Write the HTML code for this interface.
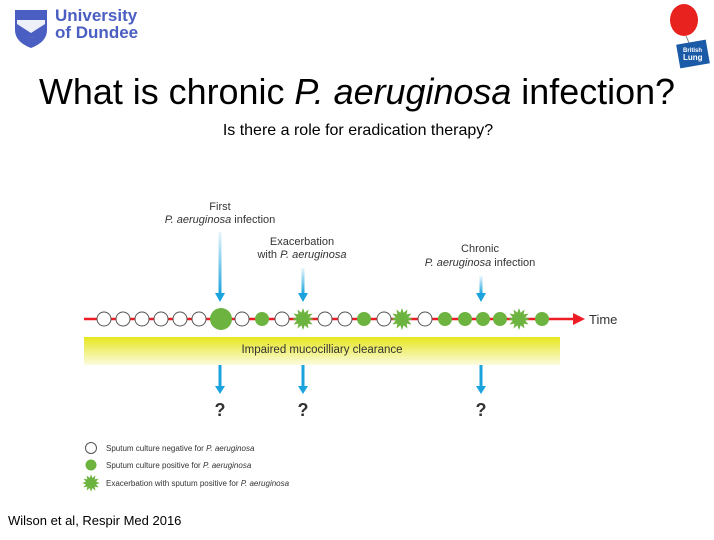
<!DOCTYPE html>
<html><head><meta charset="utf-8"><style>
body{margin:0;width:714px;height:535px;background:#fff;overflow:hidden;font-family:"Liberation Sans",sans-serif}
</style></head><body>
<svg width="714" height="535" viewBox="0 0 714 535" xmlns="http://www.w3.org/2000/svg" font-family="Liberation Sans, sans-serif">
<defs>
<linearGradient id="yb" x1="0" y1="0" x2="0" y2="1"><stop offset="0" stop-color="#e6e61e"/><stop offset="1" stop-color="#fbfbe0"/></linearGradient>
<linearGradient id="ar" x1="0" y1="0" x2="0" y2="1"><stop offset="0" stop-color="#1aa3dd" stop-opacity="0.1"/><stop offset="1" stop-color="#1aa3dd"/></linearGradient>
<polygon id="st" fill="#6db33f" points="11,0 6.28,1.68 9.53,5.5 4.6,4.6 5.5,9.53 1.68,6.28 0,11 -1.68,6.28 -5.5,9.53 -4.6,4.6 -9.53,5.5 -6.28,1.68 -11,0 -6.28,-1.68 -9.53,-5.5 -4.6,-4.6 -5.5,-9.53 -1.68,-6.28 0,-11 1.68,-6.28 5.5,-9.53 4.6,-4.6 9.53,-5.5 6.28,-1.68"/>
</defs>
<!-- logo -->
<path d="M15 10 H47 V30 Q47 42 31 48 Q15 42 15 30 Z" fill="#4a5fc1"/>
<path d="M17 20 L45 20 L45 29 L31 38 L17 29 Z" fill="#fff" opacity="0.9"/>
<path d="M17 24 L31 33 L45 24 L45 30 L31 38 L17 30Z" fill="#4a5fc1"/>
<text x="55" y="21" font-size="17" fill="#4a5fc1" font-weight="bold">University</text>
<text x="55" y="38" font-size="17" fill="#4a5fc1" font-weight="bold">of Dundee</text>
<!-- balloon -->
<ellipse cx="684" cy="20" rx="14" ry="16" fill="#e8231f"/>
<line x1="686" y1="36" x2="690" y2="45" stroke="#888"/>
<rect x="678" y="42" width="30" height="24" fill="#1b5aa6" transform="rotate(-10 693 54)"/>
<text x="683" y="52" font-size="6" fill="#fff" font-weight="bold">British</text>
<text x="683" y="60" font-size="8" fill="#fff" font-weight="bold">Lung</text>
<!-- title -->
<text x="357" y="104" font-size="36" text-anchor="middle" fill="#000" textLength="636" lengthAdjust="spacingAndGlyphs">What is chronic <tspan font-style="italic">P. aeruginosa</tspan> infection?</text>
<text x="358" y="135" font-size="16" text-anchor="middle" fill="#000">Is there a role for eradication therapy?</text>
<!-- labels -->
<g font-size="11" fill="#333" text-anchor="middle">
<text x="220" y="210">First</text>
<text x="220" y="223"><tspan font-style="italic">P. aeruginosa</tspan> infection</text>
<text x="302" y="245">Exacerbation</text>
<text x="302" y="258">with <tspan font-style="italic">P. aeruginosa</tspan></text>
<text x="480" y="252">Chronic</text>
<text x="480" y="266"><tspan font-style="italic">P. aeruginosa</tspan> infection</text>
</g>
<!-- arrows -->
<g fill="#1aa3dd">
<rect x="218.5" y="232" width="3" height="62" fill="url(#ar)"/><polygon points="215,293 225,293 220,302"/>
<rect x="301.5" y="268" width="3" height="26" fill="url(#ar)"/><polygon points="298,293 308,293 303,302"/>
<rect x="479.5" y="276" width="3" height="18" fill="url(#ar)"/><polygon points="476,293 486,293 481,302"/>
<rect x="218.5" y="362" width="3" height="25"/><polygon points="215,386 225,386 220,394"/>
<rect x="301.5" y="362" width="3" height="25"/><polygon points="298,386 308,386 303,394"/>
<rect x="479.5" y="362" width="3" height="25"/><polygon points="476,386 486,386 481,394"/>
</g>
<g font-size="18" font-weight="bold" fill="#333" text-anchor="middle">
<text x="220" y="416">?</text><text x="303" y="416">?</text><text x="481" y="416">?</text>
</g>
<!-- bar -->
<rect x="84" y="337" width="476" height="28" fill="url(#yb)"/>
<text x="322" y="353" font-size="11.5" text-anchor="middle" fill="#333">Impaired mucocilliary clearance</text>
<!-- timeline -->
<line x1="84" y1="319" x2="575" y2="319" stroke="#ee1c24" stroke-width="2.5"/>
<polygon points="573,313 585,319 573,325" fill="#ee1c24"/>
<text x="589" y="324" font-size="13" fill="#333">Time</text>
<g fill="#fff" stroke="#555" stroke-width="1">
<circle cx="104" cy="319" r="7"/><circle cx="123" cy="319" r="7"/><circle cx="142" cy="319" r="7"/><circle cx="161" cy="319" r="7"/><circle cx="180" cy="319" r="7"/><circle cx="199" cy="319" r="7"/>
<circle cx="242" cy="319" r="7"/><circle cx="282" cy="319" r="7"/><circle cx="325" cy="319" r="7"/><circle cx="345" cy="319" r="7"/><circle cx="384" cy="319" r="7"/><circle cx="425" cy="319" r="7"/>
</g>
<g fill="#6db33f">
<circle cx="221" cy="319" r="11"/><circle cx="262" cy="319" r="7"/><circle cx="364" cy="319" r="7"/>
<circle cx="445" cy="319" r="7"/><circle cx="465" cy="319" r="7"/><circle cx="483" cy="319" r="7"/><circle cx="500" cy="319" r="7"/><circle cx="542" cy="319" r="7"/>
</g>
<use href="#st" x="303" y="319"/><use href="#st" x="402" y="319"/><use href="#st" x="519" y="319"/>
<!-- legend -->
<circle cx="91" cy="448" r="5.5" fill="#fff" stroke="#555"/>
<circle cx="91" cy="465" r="5.5" fill="#6db33f"/>
<use href="#st" transform="translate(91 483) scale(0.8)"/>
<g font-size="8" fill="#333">
<text x="106" y="451">Sputum culture negative for <tspan font-style="italic">P. aeruginosa</tspan></text>
<text x="106" y="468">Sputum culture positive for <tspan font-style="italic">P. aeruginosa</tspan></text>
<text x="106" y="486">Exacerbation with sputum positive for <tspan font-style="italic">P. aeruginosa</tspan></text>
</g>
<text x="8" y="525" font-size="13" fill="#000">Wilson et al, Respir Med 2016</text>
</svg>
</body></html>
